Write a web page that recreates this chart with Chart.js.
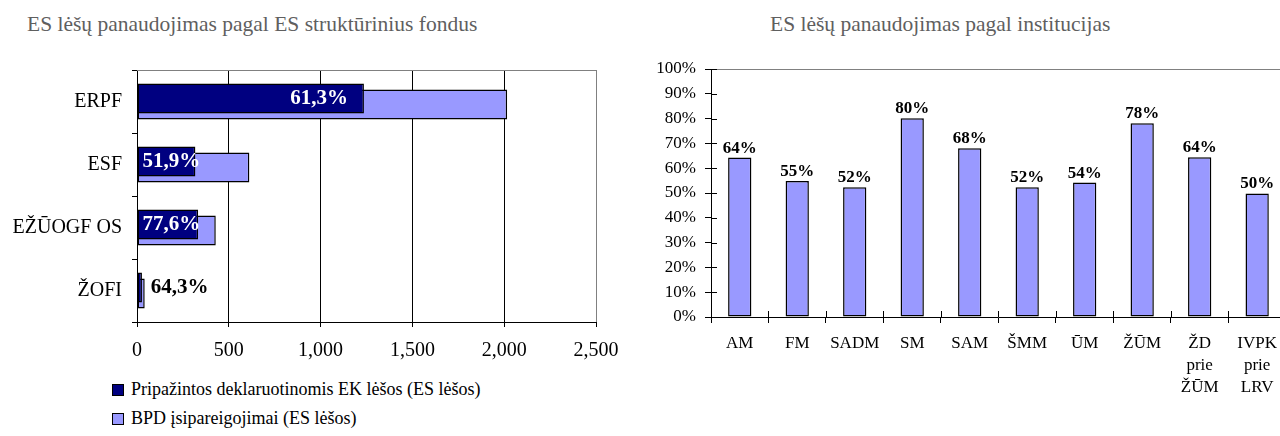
<!DOCTYPE html>
<html>
<head>
<meta charset="utf-8">
<script src="https://cdn.jsdelivr.net/npm/chart.js@4.4.0/dist/chart.umd.min.js"></script>
<style>
body { margin: 0; width: 1280px; height: 436px; overflow: hidden; background: #fff; position: relative; font-family: "Liberation Serif", serif; }
.title { position: absolute; top: 12px; font-size: 21.5px; color: #5f5f5f; white-space: nowrap; }
#funds { position: absolute; left: 0; top: 0; }
#inst { position: absolute; left: 640px; top: 0; }
#legend { position: absolute; left: 112px; top: 375px; font-size: 18px; color: #000; }
.item { height: 29px; display: flex; align-items: center; white-space: nowrap; }
.box { width: 10px; height: 10px; border: 1px solid #000; margin-right: 7px; }
</style>
</head>
<body>
<div class="title" style="left:27px">ES lėšų panaudojimas pagal ES struktūrinius fondus</div>
<div class="title" style="left:770px">ES lėšų panaudojimas pagal institucijas</div>
<canvas id="funds" width="640" height="370"></canvas>
<canvas id="inst" width="646" height="436"></canvas>
<div id="legend"></div>
<script>
// left chart: by structural fund (mln)
const funds = ['ERPF', 'ESF', 'EŽŪOGF OS', 'ŽOFI'];
const declared = [1236, 318, 333, 27];
const commitments = [2016, 612, 429, 42];
const declaredShare = ['61,3%', '51,9%', '77,6%', '64,3%'];
const fundAxis = { min: 0, max: 2500, step: 500 };

// right chart: by institution (%)
const institutions = ['AM', 'FM', 'SADM', 'SM', 'SAM', 'ŠMM', 'ŪM', 'ŽŪM', ['ŽD', 'prie', 'ŽŪM'], ['IVPK', 'prie', 'LRV']];
const usage = [64.3, 54.8, 52.3, 80.1, 68.0, 52.3, 54.2, 78.1, 64.4, 49.8];
const usageAxis = { min: 0, max: 100, step: 10 };

const SERIF = '"Liberation Serif", serif';
Chart.defaults.font.family = SERIF;
Chart.defaults.color = '#000';

const shareLabels = {
    id: 'shareLabels',
    afterDatasetsDraw(chart) {
        const ctx = chart.ctx;
        const dark = chart.getDatasetMeta(0).data;
        const light = chart.getDatasetMeta(1).data;
        ctx.save();
        ctx.font = 'bold 21px ' + SERIF;
        ctx.textBaseline = 'middle';
        dark.forEach((bar, i) => {
            const txt = declaredShare[i];
            const w = bar.x - bar.base;
            const tw = ctx.measureText(txt).width;
            if (w > tw + 40) {
                ctx.fillStyle = '#fff';
                ctx.textAlign = 'right';
                ctx.fillText(txt, bar.x - 16, bar.y);
            } else if (w > 30) {
                ctx.fillStyle = '#fff';
                ctx.textAlign = 'left';
                ctx.fillText(txt, bar.base + 5, bar.y);
            } else {
                ctx.fillStyle = '#000';
                ctx.textAlign = 'left';
                ctx.fillText(txt, light[i].x + 6, bar.y);
            }
        });
        ctx.restore();
    }
};

// gray top border of the plot area
const plotFrame = {
    id: 'plotFrame',
    afterDraw(chart) {
        const { ctx, chartArea } = chart;
        const y = Math.round(chartArea.top) + 0.5;
        ctx.save();
        ctx.strokeStyle = '#808080';
        ctx.lineWidth = 1;
        ctx.beginPath();
        ctx.moveTo(chartArea.left, y);
        ctx.lineTo(chartArea.right, y);
        ctx.stroke();
        ctx.restore();
    }
};

const fundsChart = new Chart(document.getElementById('funds'), {
    type: 'bar',
    data: {
        labels: funds,
        datasets: [
            {
                label: 'Pripažintos deklaruotinomis EK lėšos (ES lėšos)',
                data: declared,
                backgroundColor: '#000080',
                borderColor: '#000',
                borderWidth: 1.5,
                borderSkipped: false,
                categoryPercentage: 0.19,
                barPercentage: 5
            },
            {
                label: 'BPD įsipareigojimai (ES lėšos)',
                data: commitments,
                backgroundColor: '#9999ff',
                borderColor: '#000',
                borderWidth: 1.5,
                borderSkipped: false,
                categoryPercentage: 0.19,
                barPercentage: 5
            }
        ]
    },
    options: {
        indexAxis: 'y',
        responsive: false,
        animation: false,
        locale: 'en-US',
        layout: { padding: { top: 70, right: 44, left: 0, bottom: 0 } },
        plugins: { legend: { display: false }, tooltip: { enabled: false } },
        scales: {
            x: {
                min: fundAxis.min,
                max: fundAxis.max,
                ticks: { stepSize: fundAxis.step, font: { size: 20 }, padding: 12 },
                grid: {
                    color: c => c.tick && c.tick.value === fundAxis.max ? '#808080' : '#000',
                    tickColor: '#000',
                    tickLength: 5
                },
                border: { color: '#000' },
                afterFit: s => { s.height = 48; }
            },
            y: {
                ticks: { font: { size: 20 }, padding: 10 },
                grid: {
                    offset: true,
                    drawOnChartArea: false,
                    tickColor: '#000',
                    tickLength: 5
                },
                border: { color: '#000' },
                afterFit: s => { s.width = 137; }
            }
        }
    },
    plugins: [plotFrame, shareLabels]
});

// html legend from the datasets
const legendEl = document.getElementById('legend');
fundsChart.data.datasets.forEach(ds => {
    const row = document.createElement('div');
    row.className = 'item';
    const box = document.createElement('span');
    box.className = 'box';
    box.style.background = ds.backgroundColor;
    row.appendChild(box);
    row.appendChild(document.createTextNode(ds.label));
    legendEl.appendChild(row);
});

const valueLabels = {
    id: 'valueLabels',
    afterDatasetsDraw(chart) {
        const ctx = chart.ctx;
        ctx.save();
        ctx.font = 'bold 17px ' + SERIF;
        ctx.fillStyle = '#000';
        ctx.textAlign = 'center';
        ctx.textBaseline = 'alphabetic';
        chart.getDatasetMeta(0).data.forEach((bar, i) => {
            ctx.fillText(Math.round(usage[i]) + '%', bar.x, bar.y - 5);
        });
        ctx.restore();
    }
};

// excel style "cross" tick marks, inner half
const crossTicks = {
    id: 'crossTicks',
    afterDraw(chart) {
        const { ctx, chartArea, scales } = chart;
        ctx.save();
        ctx.strokeStyle = '#000';
        ctx.lineWidth = 1;
        ctx.beginPath();
        scales.y.ticks.forEach(t => {
            const y = Math.round(scales.y.getPixelForValue(t.value)) + 0.5;
            ctx.moveTo(chartArea.left, y);
            ctx.lineTo(chartArea.left + 6, y);
        });
        const step = scales.x.width / institutions.length;
        for (let i = 1; i < institutions.length; i++) {
            const x = Math.round(scales.x.getPixelForValue(i) - step / 2) + 0.5;
            ctx.moveTo(x, chartArea.bottom);
            ctx.lineTo(x, chartArea.bottom - 6);
        }
        ctx.stroke();
        ctx.restore();
    }
};

new Chart(document.getElementById('inst'), {
    type: 'bar',
    data: {
        labels: institutions,
        datasets: [{
            data: usage,
            backgroundColor: '#9999ff',
            borderColor: '#000',
            borderWidth: 1.5,
            borderSkipped: false,
            categoryPercentage: 1,
            barPercentage: 0.405
        }]
    },
    options: {
        responsive: false,
        animation: false,
        layout: { padding: { top: 69, right: 0, left: 0, bottom: 0 } },
        plugins: { legend: { display: false }, tooltip: { enabled: false } },
        scales: {
            x: {
                ticks: { font: { size: 17, lineHeight: 1.3 }, padding: 9, autoSkip: false, maxRotation: 0 },
                grid: { offset: true, drawOnChartArea: false, tickColor: '#000', tickLength: 6 },
                border: { color: '#000' },
                afterFit: s => { s.height = 119; }
            },
            y: {
                min: usageAxis.min,
                max: usageAxis.max,
                ticks: { stepSize: usageAxis.step, font: { size: 17 }, padding: 9, callback: v => v + '%' },
                grid: {
                    color: c => c.tick && c.tick.value === usageAxis.max ? '#808080' : 'rgba(0,0,0,0)',
                    tickColor: '#000',
                    tickLength: 6
                },
                border: { color: '#000' },
                afterFit: s => { s.width = 71; }
            }
        }
    },
    plugins: [valueLabels, crossTicks]
});
</script>
</body>
</html>
